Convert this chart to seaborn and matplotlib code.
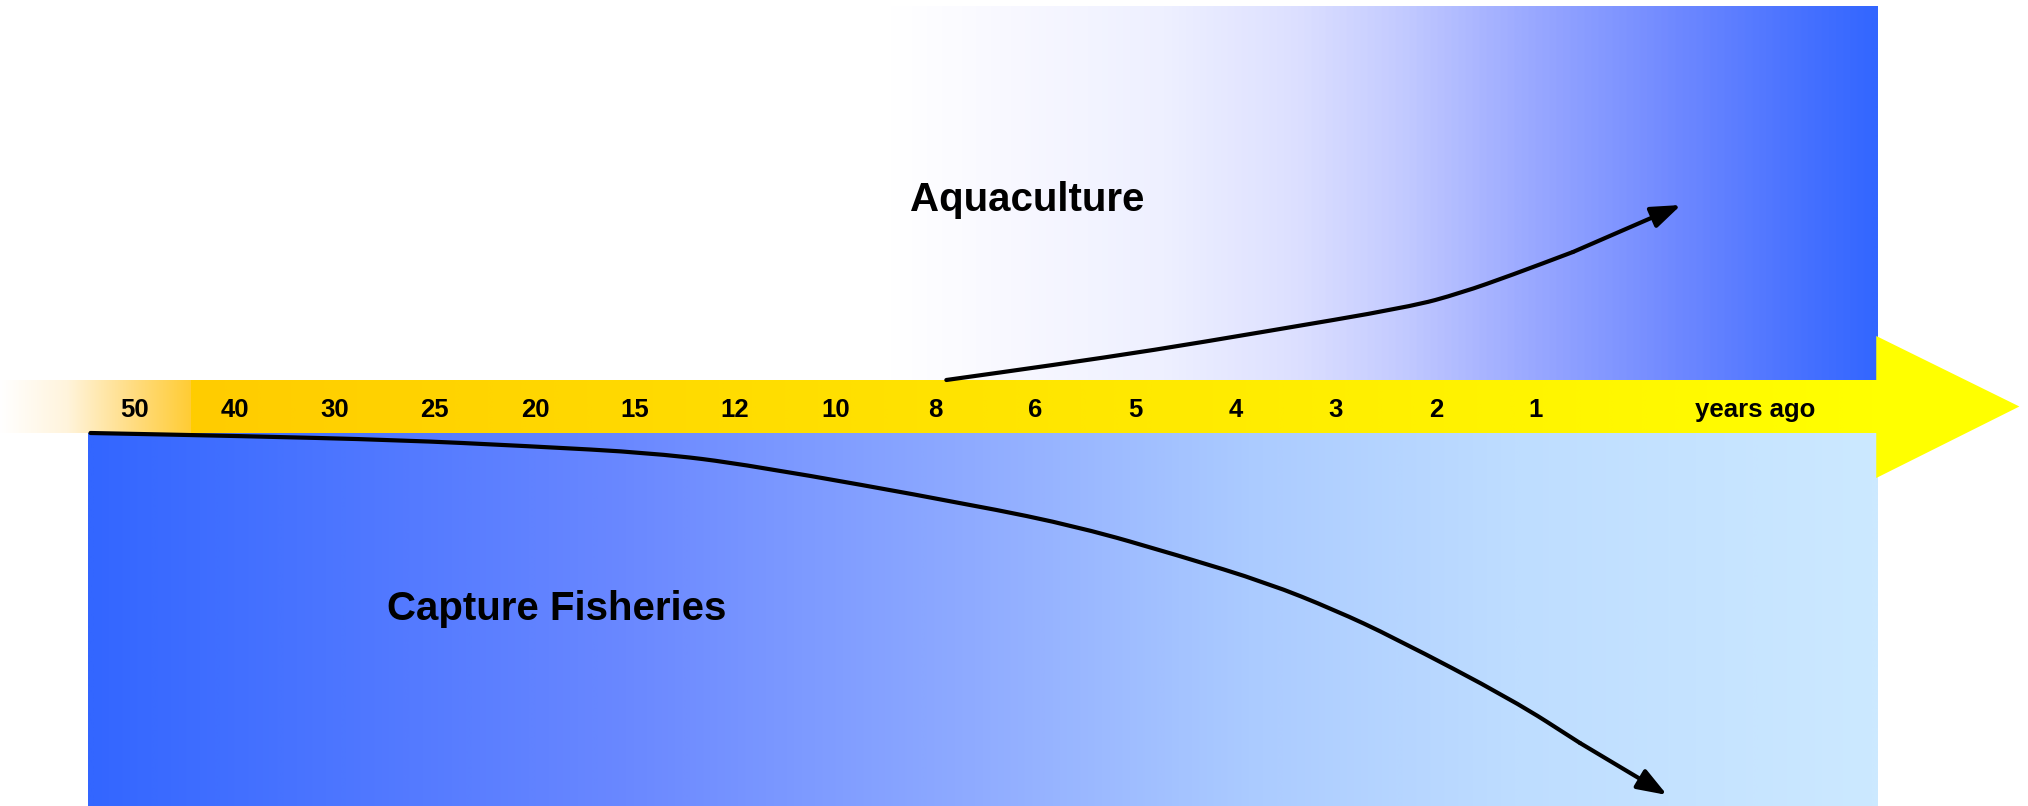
import numpy as np
import matplotlib
matplotlib.use('Agg')
import matplotlib.pyplot as plt
import seaborn as sns
from matplotlib.colors import LinearSegmentedColormap
from matplotlib.patches import Polygon, PathPatch
from matplotlib.path import Path

sns.set_theme(style='white')
plt.rcParams['font.family'] = ['Liberation Sans', 'DejaVu Sans']

# timeline labels (years ago), one per slot on the band
years = ['50', '40', '30', '25', '20', '15', '12', '10', '8', '6', '5', '4', '3', '2', '1']
axis_label = 'years ago'

# trend curves: slot position along the band, level above/below band centre
aqua_x = [8.11, 9.18, 10.19, 11.21, 12.74, 13.25, 13.76, 14.37, 15.45]
aqua_y = [0.265, 0.415, 0.565, 0.735, 0.995, 1.135, 1.315, 1.545, 2.015]

capt_x = [-0.44, 1.04, 2.64, 3.91, 5.19, 6.15, 8.38, 9.44, 10.43, 11.32,
          11.99, 12.57, 13.77, 14.44, 15.31]
capt_y = [-0.265, -0.295, -0.335, -0.395, -0.465, -0.585, -0.985, -1.205, -1.49, -1.765,
          -2.035, -2.305, -2.935, -3.365, -3.885]

fig = plt.figure(figsize=(20.28, 8.06), dpi=100)
ax = fig.add_axes([0, 0, 1, 1])
ax.set_xlim(-1.344, 18.916)
ax.set_ylim(-3.995, 4.065)
ax.axis('off')

# layout of the boxes
left, right = -0.464, 17.41
band_half = 0.265
top, bottom = 4.005, -3.995


def hgrad(stops, extent, z=0):
    cmap = LinearSegmentedColormap.from_list('g', stops)
    grad = np.linspace(0, 1, 1024).reshape(1, -1)
    ax.imshow(grad, cmap=cmap, extent=extent, aspect='auto', zorder=z,
              interpolation='bilinear')


def smooth_curve(xs, ys):
    # quadratic bezier through the midpoints of the read points
    pts = list(zip(xs, ys))
    verts = [pts[0], ((pts[0][0] + pts[1][0]) / 2, (pts[0][1] + pts[1][1]) / 2)]
    codes = [Path.MOVETO, Path.LINETO]
    for i in range(1, len(pts) - 1):
        mid = ((pts[i][0] + pts[i + 1][0]) / 2, (pts[i][1] + pts[i + 1][1]) / 2)
        verts += [pts[i], mid]
        codes += [Path.CURVE3, Path.CURVE3]
    verts.append(pts[-1])
    codes.append(Path.LINETO)
    ax.add_patch(PathPatch(Path(verts, codes), facecolor='none', edgecolor='black',
                           lw=3, capstyle='round', joinstyle='round', zorder=3))


# upper box: white fading into blue
hgrad([(0, '#FFFFFF'), (0.45, '#FFFFFF'), (0.515, '#F8F8FF'), (0.601, '#EEF0FF'),
       (0.674, '#DDE0FF'), (0.731, '#C5CCFF'), (0.782, '#A8B4FF'), (0.818, '#94A4FF'),
       (0.890, '#6E88FF'), (0.963, '#4570FF'), (1, '#3366FF')],
      [left, right, band_half, top])

# lower box: blue fading into pale blue
hgrad([(0, '#3366FF'), (0.3, '#6A88FF'), (0.5, '#90ACFF'), (0.65, '#ABCBFF'),
       (0.8, '#BEDDFF'), (1, '#CCE9FF')],
      [left, right, bottom, -band_half])

# yellow band with faded left end
hgrad([(0, '#FFFFFF'), (0.35, '#FFF4DC'), (0.7, '#FFDC80'), (1, '#FFCC33')],
      [-1.344, 0.565, -band_half, band_half], z=1)
hgrad([(0, '#FFCC00'), (1, '#FFFF00')], [0.565, right, -band_half, band_half], z=1)
ax.add_patch(Polygon([(right - 0.01, 0.705), (18.83, 0.0), (right - 0.01, -0.715)],
                     closed=True, facecolor='#FFFF00', edgecolor='none', zorder=1))

# curves with arrow heads
for xs, ys in [(aqua_x, aqua_y), (capt_x, capt_y)]:
    smooth_curve(xs[:-1], ys[:-1])
    ax.annotate('', xy=(xs[-1], ys[-1]), xytext=(xs[-2], ys[-2]),
                arrowprops=dict(arrowstyle='-|>,head_length=0.9,head_width=0.33',
                                color='black', lw=3, shrinkA=0, shrinkB=0,
                                mutation_scale=20), zorder=4)

# labels on the band
for i, lab in enumerate(years):
    ax.text(i, -0.035, lab, ha='center', va='center', fontsize=18.5, fontweight='bold',
            color='black', zorder=5)
ax.text(16.19, -0.035, axis_label, ha='center', va='center', fontsize=18.5,
        fontweight='bold', color='black', zorder=5)

ax.text(8.92, 2.065, 'Aquaculture', ha='center', va='center', fontsize=29,
        fontweight='bold', color='black', zorder=5)
ax.text(4.22, -2.025, 'Capture Fisheries', ha='center', va='center', fontsize=29,
        fontweight='bold', color='black', zorder=5)

fig.savefig('out.png', dpi=100)
